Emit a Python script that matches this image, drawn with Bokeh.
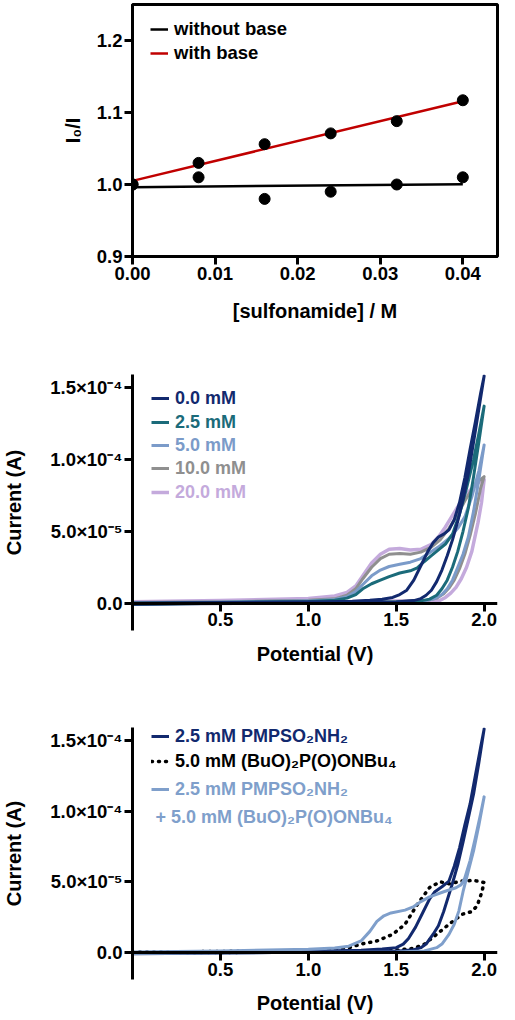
import numpy as np
from bokeh.plotting import figure
from bokeh.layouts import column
from bokeh.models import (Range1d, FixedTicker, PrintfTickFormatter, CustomJSTickFormatter,
                          Legend, LegendItem, Label, LinearAxis)
from bokeh.embed import file_html
from bokeh.resources import INLINE

FONT = "Liberation Sans"

# ---------------- Panel 1: Stern-Volmer type plot ----------------
conc = [0.0, 0.008, 0.016, 0.024, 0.032, 0.040]
ratio_without_base = [1.000, 1.010, 0.980, 0.990, 1.000, 1.010]
ratio_with_base = [1.000, 1.030, 1.056, 1.071, 1.088, 1.117]
x_ticks_1 = [0.0, 0.01, 0.02, 0.03, 0.04]
y_ticks_1 = [0.9, 1.0, 1.1, 1.2]

# ---------------- Panel 2: CVs at various concentrations (current in µA) ----------------
v_00 = [0.0, 0.3, 0.6, 0.9, 1.1, 1.25, 1.35, 1.42, 1.48, 1.52, 1.56, 1.60, 1.64, 1.68, 1.71, 1.74, 1.77, 1.80,
        1.83, 1.86, 1.89, 1.92, 1.95, 1.98, 2.0,
        1.97, 1.94, 1.91, 1.88, 1.85, 1.82, 1.79, 1.76, 1.73, 1.70, 1.67, 1.64, 1.60, 1.5, 1.3, 1.0, 0.6, 0.3, 0.0]
i_00 = [0.0, 0.3, 0.5, 0.8, 1.0, 1.4, 2.0, 2.8, 4.0, 6.0, 9.0, 16, 26, 36, 42, 46, 48, 51,
        58, 70, 87, 107, 126, 146, 158,
        135, 112, 90, 72, 57, 44, 33, 23, 15, 9.0, 5.5, 3.2, 1.8, 0.8, 0.3, 0.1, -0.2, -0.4, -0.8]

v_25 = [0.0, 0.5, 1.0, 1.15, 1.22, 1.27, 1.31, 1.36, 1.41, 1.46, 1.52, 1.58, 1.62, 1.66, 1.70, 1.74, 1.78,
        1.82, 1.86, 1.90, 1.94, 1.97, 2.0,
        1.97, 1.94, 1.91, 1.88, 1.85, 1.82, 1.79, 1.76, 1.73, 1.69, 1.64, 1.5, 1.2, 0.8, 0.4, 0.0]
i_25 = [0.0, 0.5, 1.2, 2.0, 3.5, 6.0, 10, 13.5, 16, 18.5, 21, 22.5, 24.5, 29, 33, 37, 41,
        48, 62, 80, 100, 118, 137,
        112, 88, 66, 50, 36, 25, 16, 10, 5.5, 2.8, 1.6, 0.8, 0.4, 0.1, -0.3, -0.8]

v_50 = [0.0, 0.5, 1.0, 1.15, 1.22, 1.27, 1.31, 1.36, 1.41, 1.46, 1.52, 1.58, 1.64, 1.70, 1.75, 1.80, 1.85,
        1.89, 1.93, 1.97, 2.0,
        1.97, 1.94, 1.91, 1.88, 1.85, 1.82, 1.79, 1.76, 1.72, 1.67, 1.5, 1.2, 0.8, 0.4, 0.0]
i_50 = [0.3, 0.8, 1.6, 2.6, 4.5, 8.0, 13, 19, 23, 25.5, 27, 28.5, 31, 36, 40, 45, 52,
        60, 74, 92, 110,
        86, 64, 46, 34, 25, 16, 10, 6.0, 3.2, 1.8, 1.0, 0.5, 0.2, -0.2, -0.6]

v_100 = [0.0, 0.5, 1.0, 1.15, 1.22, 1.27, 1.31, 1.36, 1.41, 1.46, 1.52, 1.58, 1.64, 1.70, 1.75, 1.80, 1.85,
         1.89, 1.93, 1.97, 2.0,
         1.98, 1.95, 1.92, 1.89, 1.86, 1.83, 1.80, 1.77, 1.73, 1.68, 1.5, 1.2, 0.8, 0.4, 0.0]
i_100 = [0.5, 1.0, 2.0, 3.0, 5.5, 10, 17, 25, 31, 34, 34.5, 34, 35.5, 39, 44, 52, 62,
         71, 79, 85, 88,
         80, 62, 47, 34, 24, 16, 10.5, 6.5, 3.5, 2.0, 1.2, 0.6, 0.3, -0.1, -0.5]

v_200 = [0.0, 0.5, 1.0, 1.15, 1.22, 1.27, 1.31, 1.36, 1.41, 1.46, 1.52, 1.58, 1.64, 1.70, 1.74, 1.78, 1.82,
         1.86, 1.90, 1.94, 1.97, 2.0,
         1.985, 1.965, 1.93, 1.90, 1.87, 1.84, 1.81, 1.78, 1.75, 1.70, 1.5, 1.2, 0.8, 0.4, 0.0]
i_200 = [1.0, 1.8, 3.2, 5.0, 7.5, 12, 19, 28, 34, 37.5, 38, 37, 37.5, 41, 46, 53, 61,
         69, 76, 81, 84, 86,
         70, 56, 36, 25, 17, 11, 7.0, 4.0, 2.0, 1.5, 1.5, 1.0, 0.6, 0.2, -0.3]

# ---------------- Panel 3: CVs of sulfonamide, phosphate base and mixture (µA) ----------------
v_sulf = [0.0, 0.5, 1.0, 1.3, 1.42, 1.5, 1.54, 1.57, 1.61, 1.65, 1.69, 1.72, 1.76, 1.80, 1.83, 1.86, 1.89,
          1.92, 1.95, 1.98, 2.0,
          1.97, 1.94, 1.91, 1.88, 1.85, 1.82, 1.80, 1.77, 1.74, 1.71, 1.67, 1.64, 1.6, 1.5, 1.2, 0.8, 0.4, 0.0]
i_sulf = [0.0, 0.4, 0.9, 1.6, 2.5, 3.5, 6.0, 10, 18, 28, 38, 43, 46.5, 50.5, 61, 74, 90,
          105, 125, 145, 158,
          134, 112, 95, 78, 62, 49, 41, 29, 19, 13, 6.0, 3.5, 2.0, 1.0, 0.4, 0.0, -0.4, -0.8]

v_base = [0.0, 0.5, 1.0, 1.15, 1.23, 1.30, 1.39, 1.48, 1.55, 1.62, 1.69, 1.75, 1.80, 1.87, 1.94, 2.0,
          1.985, 1.96, 1.93, 1.874, 1.80, 1.73, 1.66, 1.60, 1.5, 1.2, 0.8, 0.4, 0.0]
i_base = [0.3, 0.8, 1.5, 2.5, 3.5, 6.0, 8.2, 12.9, 20, 34, 46, 50, 48.6, 50.5, 51, 49.5,
          42, 33, 29, 27, 20, 12.9, 5.9, 3.0, 1.8, 0.8, 0.3, 0.0, -0.4]

v_mix = [0.0, 0.5, 1.0, 1.15, 1.23, 1.30, 1.35, 1.39, 1.43, 1.47, 1.55, 1.60, 1.64, 1.69, 1.77, 1.84, 1.87,
         1.89, 1.92, 1.95, 1.98, 2.0,
         1.97, 1.94, 1.91, 1.88, 1.856, 1.83, 1.80, 1.76, 1.73, 1.66, 1.5, 1.2, 0.8, 0.4, 0.0]
i_mix = [0.5, 1.2, 2.3, 3.2, 4.5, 8.2, 15, 22, 26, 28, 30, 32.5, 36, 39.4, 43, 45.8, 48,
         52.8, 65, 81, 98, 110,
         90, 72, 57.5, 43, 29.3, 20, 12.9, 6.0, 3.5, 1.2, 0.5, 0.2, 0.0, -0.3, -0.6]

cv_x_ticks = [0.5, 1.0, 1.5, 2.0]
cv_y_ticks = [0.0, 5e-5, 1e-4, 1.5e-4]

labels_2 = ["0.0 mM", "2.5 mM", "5.0 mM", "10.0 mM", "20.0 mM"]
colors_2 = ["#12296e", "#1b6b7a", "#7b9bc9", "#8f8f8f", "#c4aadc"]

labels_3 = ["2.5 mM PMPSO\u2082NH\u2082", "5.0 mM (BuO)\u2082P(O)ONBu\u2084",
            "2.5 mM PMPSO\u2082NH\u2082", "+ 5.0 mM (BuO)\u2082P(O)ONBu\u2084"]
colors_3 = ["#12296e", "#000000", "#7f9fcb"]

UA = 1e-6  # µA -> A
FRAME_H = 256


def style_axes(p, tick_font="18.5px", label_font="20px"):
    for ax in (p.xaxis[0], p.yaxis[0]):
        ax.axis_line_width = 3
        ax.axis_line_color = "black"
        ax.major_tick_line_width = 3
        ax.major_tick_line_color = "black"
        ax.major_tick_in = 0
        ax.major_tick_out = 8
        ax.minor_tick_line_color = None
        ax.major_label_text_font = FONT
        ax.major_label_text_font_style = "bold"
        ax.major_label_text_font_size = tick_font
        ax.major_label_text_color = "black"
        ax.major_label_standoff = 2
        ax.axis_label_text_font = FONT
        ax.axis_label_text_font_style = "bold"
        ax.axis_label_text_font_size = label_font
        ax.axis_label_text_color = "black"
    p.xgrid.grid_line_color = None
    p.ygrid.grid_line_color = None


def add_legend(p, renderer, text, color, vx, vy, size="18px"):
    leg = Legend(items=[LegendItem(label=text, renderers=[renderer])],
                 location=(vx, vy), orientation="vertical",
                 background_fill_alpha=0, border_line_color=None,
                 padding=0, margin=0, spacing=2,
                 glyph_width=18, glyph_height=22, label_height=22,
                 label_standoff=6, label_text_font=FONT, label_text_font_style="bold",
                 label_text_font_size=size, label_text_color=color)
    p.add_layout(leg)
    return leg


# ================= Figure 1 =================
p1 = figure(width=499, height=326, output_backend="svg", toolbar_location=None,
            x_range=Range1d(0, 0.0442), y_range=Range1d(0.9, 1.25),
            min_border_left=127, min_border_right=2, min_border_top=4, min_border_bottom=70)
p1.outline_line_color = "black"
p1.outline_line_width = 3
style_axes(p1)
p1.xaxis.ticker = FixedTicker(ticks=x_ticks_1)
p1.yaxis.ticker = FixedTicker(ticks=y_ticks_1)
p1.xaxis.formatter = PrintfTickFormatter(format="%.2f")
p1.yaxis.formatter = PrintfTickFormatter(format="%.1f")
p1.xaxis.axis_label = "[sulfonamide] / M"
p1.yaxis.axis_label = "I\u2080/I"
p1.xaxis.axis_label_standoff = 17
p1.yaxis.axis_label_standoff = 10

xfit = np.array([conc[0], conc[-1]])
c_wo = np.polyfit(conc, ratio_without_base, 1)
c_w = np.polyfit(conc, ratio_with_base, 1)
r_wo = p1.line(xfit, np.polyval(c_wo, xfit), line_color="black", line_width=2.5)
r_w = p1.line(xfit, np.polyval(c_w, xfit), line_color="#c00000", line_width=2.5)
p1.scatter(conc, ratio_without_base, size=11, color="black")
p1.scatter(conc, ratio_with_base, size=11, color="black")

leg1 = Legend(items=[LegendItem(label="without base", renderers=[r_wo]),
                     LegendItem(label="with base", renderers=[r_w])],
              location=(18, 192), background_fill_alpha=0, border_line_color=None,
              padding=0, margin=0, spacing=2, glyph_width=18, glyph_height=22, label_height=22,
              label_standoff=6, label_text_font=FONT, label_text_font_style="bold",
              label_text_font_size="18.5px", label_text_color="black")
p1.add_layout(leg1)

# ================= CV figure helper =================
sci_fmt = CustomJSTickFormatter(code="""
    if (Math.abs(tick) < 1e-12) { return "0.0"; }
    const e = Math.floor(Math.log10(Math.abs(tick)) + 1e-9);
    const c = tick / Math.pow(10, e);
    const sup = {"-": "\u207b", "0": "\u2070", "1": "\u00b9", "2": "\u00b2", "3": "\u00b3",
                 "4": "\u2074", "5": "\u2075", "6": "\u2076", "7": "\u2077", "8": "\u2078", "9": "\u2079"};
    return c.toFixed(1) + "\u00d710" + String(e).split("").map(ch => sup[ch]).join("");
""")


def cv_figure(height, top):
    p = figure(width=499, height=height, output_backend="svg", toolbar_location=None,
               x_range=Range1d(0, 2.076), y_range=Range1d(-1.9e-5, 1.59e-4),
               min_border_left=126, min_border_right=0, min_border_top=top,
               min_border_bottom=height - top - FRAME_H)
    p.outline_line_color = None
    style_axes(p)
    p.xaxis.fixed_location = 0
    p.xaxis.ticker = FixedTicker(ticks=cv_x_ticks)
    p.yaxis.ticker = FixedTicker(ticks=cv_y_ticks)
    p.xaxis.formatter = PrintfTickFormatter(format="%.1f")
    p.yaxis.formatter = sci_fmt
    p.yaxis.axis_label = "Current (A)"
    p.yaxis.axis_label_standoff = 22
    # the axis at y = 0 cannot carry its own title, so a tick-less axis below the frame holds it
    title_axis = LinearAxis(ticker=FixedTicker(ticks=[]), axis_line_color=None,
                            major_tick_line_color=None, minor_tick_line_color=None,
                            major_tick_out=0, major_label_standoff=0,
                            axis_label="Potential (V)", axis_label_standoff=12,
                            axis_label_text_font=FONT, axis_label_text_font_style="bold",
                            axis_label_text_font_size="20px", axis_label_text_color="black")
    p.add_layout(title_axis, "below")
    return p


# ================= Figure 2 =================
p2 = cv_figure(342, 48)
series2 = [(v_00, i_00), (v_25, i_25), (v_50, i_50), (v_100, i_100), (v_200, i_200)]
rends2 = [None] * 5
for k in [4, 3, 2, 1, 0]:
    v, i = series2[k]
    rends2[k] = p2.line(v, [a * UA for a in i], line_color=colors_2[k],
                        line_width=3.5 if k == 4 else 3, line_join="round")
leg_y2 = [221, 197, 174, 151, 127]
for k in range(5):
    add_legend(p2, rends2[k], labels_2[k], colors_2[k], 19, leg_y2[k])

# ================= Figure 3 =================
p3 = cv_figure(348, 59)
r_base = p3.line(v_base, [a * UA for a in i_base], line_color="black", line_width=3.5,
                 line_dash="1 6", line_cap="round")
r_sulf = p3.line(v_sulf, [a * UA for a in i_sulf], line_color=colors_3[0], line_width=3,
                 line_join="round")
r_mix = p3.line(v_mix, [a * UA for a in i_mix], line_color=colors_3[2], line_width=3,
                line_join="round")
add_legend(p3, r_sulf, labels_3[0], colors_3[0], 19, 232)
add_legend(p3, r_base, labels_3[1], colors_3[1], 19, 207)
add_legend(p3, r_mix, labels_3[2], colors_3[2], 19, 179)
p3.add_layout(Label(x=23, y=163, x_units="screen", y_units="screen", text=labels_3[3],
                    text_font=FONT, text_font_style="bold", text_font_size="18px",
                    text_color=colors_3[2], text_baseline="middle"))

layout = column(p1, p2, p3, spacing=0)
open("out.html", "w").write(file_html(layout, INLINE))
